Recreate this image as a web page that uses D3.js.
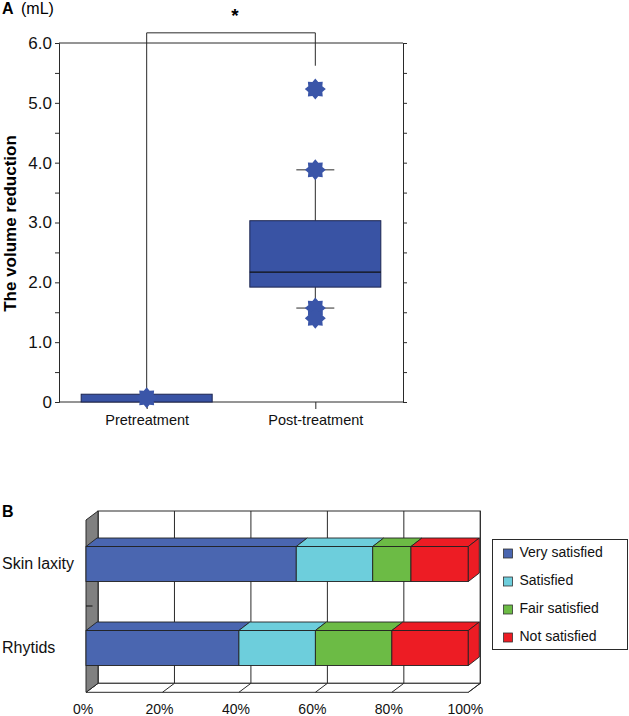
<!DOCTYPE html>
<html>
<head>
<meta charset="utf-8">
<script src="https://cdn.jsdelivr.net/npm/d3@7"></script>
<style>
  html, body { margin: 0; padding: 0; background: #fff; }
  svg { display: block; font-family: "Liberation Sans", Arial, Helvetica, sans-serif; }
</style>
</head>
<body>
<svg id="chart" width="629" height="716"></svg>
<script>
// ---------- Panel A data ----------
const groupsA = ["Pretreatment", "Post-treatment"];
const boxLow = [0, 1.92];
const boxHigh = [0.13, 3.03];
const boxMedian = [null, 2.17];
const whiskerLow = [null, 1.57];
const whiskerHigh = [null, 3.88];
const outlierGroup = ["Pretreatment", "Post-treatment", "Post-treatment", "Post-treatment", "Post-treatment"];
const outlierValue = [0.07, 5.23, 3.88, 1.57, 1.40];
const yTicksA = [0, 0.5, 1, 1.5, 2, 2.5, 3, 3.5, 4, 4.5, 5, 5.5, 6];
const bracketTop = 6.17;
const bracketRightEnd = 5.62;
const sigMark = "*";

// ---------- Panel B data ----------
const categoriesB = ["Skin laxity", "Rhytids"];
const seriesB = ["Very satisfied", "Satisfied", "Fair satisfied", "Not satisfied"];
const valuesSkin = [55, 20, 10, 15];
const valuesRhytids = [40, 20, 20, 20];
const colorsB = ["#4a66b0", "#6dcedc", "#6cbb45", "#ed1c24"];
const xTicksB = [0, 20, 40, 60, 80, 100];

const svg = d3.select("#chart");
const dark = "#2a2a2a";
const boxBlue = "#3953a4";

// ================= Panel A =================
const A = { left: 59, right: 403, top: 43, bottom: 402 };
const xA = d3.scalePoint().domain(groupsA).range([A.left, A.right]).padding(0.52);
const yA = d3.scaleLinear().domain([0, 6]).range([A.bottom, A.top]);
const boxHalf = 65.5;
const capHalf = 19;

const gA = svg.append("g");

// frame top
gA.append("line").attr("x1", A.left).attr("x2", A.right).attr("y1", A.top).attr("y2", A.top)
  .attr("stroke", dark).attr("stroke-width", 1);

// left axis
const axL = d3.axisLeft(yA).tickValues(yTicksA).tickSize(4).tickPadding(3)
  .tickFormat(v => v === 0 ? "0" : (v % 1 === 0 ? v.toFixed(1) : ""));
const gL = gA.append("g").attr("transform", `translate(${A.left},0)`).call(axL);
gL.select(".domain").attr("stroke", dark);
gL.selectAll(".tick line").attr("stroke", dark);
gL.selectAll(".tick text").attr("font-size", 17).attr("fill", "#111")
  .attr("font-family", "Liberation Sans, Arial, sans-serif");

// right axis
const axR = d3.axisRight(yA).tickValues(yTicksA).tickSize(4).tickFormat("");
const gR = gA.append("g").attr("transform", `translate(${A.right},0)`).call(axR);
gR.select(".domain").attr("stroke", dark);
gR.selectAll(".tick line").attr("stroke", dark);

// bottom axis
const axB = d3.axisBottom(xA).tickSize(7).tickPadding(6);
const gBx = gA.append("g").attr("transform", `translate(0,${A.bottom})`).call(axB);
gBx.select(".domain").attr("d", `M${A.left},0H${A.right}`).attr("stroke", dark);
gBx.selectAll(".tick line").attr("stroke", dark);
gBx.selectAll(".tick text").attr("font-size", 14.5).attr("fill", "#111")
  .attr("font-family", "Liberation Sans, Arial, sans-serif");

// significance bracket
const xPre = xA(groupsA[0]), xPost = xA(groupsA[1]);
gA.append("path")
  .attr("d", `M${xPre},${yA(boxHigh[0])}V${yA(bracketTop)}H${xPost}V${yA(bracketRightEnd)}`)
  .attr("fill", "none").attr("stroke", dark).attr("stroke-width", 1);
gA.append("text").attr("x", (xPre + xPost) / 2 + 4).attr("y", 22)
  .attr("text-anchor", "middle").attr("font-size", 19).attr("font-weight", "bold").text(sigMark);

// whiskers
groupsA.forEach((g, i) => {
  const cx = xA(g);
  if (whiskerHigh[i] != null) {
    gA.append("line").attr("x1", cx).attr("x2", cx).attr("y1", yA(boxHigh[i])).attr("y2", yA(whiskerHigh[i])).attr("stroke", dark);
    gA.append("line").attr("x1", cx - capHalf).attr("x2", cx + capHalf).attr("y1", yA(whiskerHigh[i])).attr("y2", yA(whiskerHigh[i])).attr("stroke", dark);
  }
  if (whiskerLow[i] != null) {
    gA.append("line").attr("x1", cx).attr("x2", cx).attr("y1", yA(boxLow[i])).attr("y2", yA(whiskerLow[i])).attr("stroke", dark);
    gA.append("line").attr("x1", cx - capHalf).attr("x2", cx + capHalf).attr("y1", yA(whiskerLow[i])).attr("y2", yA(whiskerLow[i])).attr("stroke", dark);
  }
});

// boxes
gA.selectAll("rect.box").data(groupsA).join("rect").attr("class", "box")
  .attr("x", d => xA(d) - boxHalf)
  .attr("width", boxHalf * 2)
  .attr("y", (d, i) => yA(boxHigh[i]))
  .attr("height", (d, i) => yA(boxLow[i]) - yA(boxHigh[i]))
  .attr("fill", boxBlue).attr("stroke", "#1c2550").attr("stroke-width", 1);

groupsA.forEach((g, i) => {
  if (boxMedian[i] != null) {
    gA.append("line").attr("x1", xA(g) - boxHalf).attr("x2", xA(g) + boxHalf)
      .attr("y1", yA(boxMedian[i])).attr("y2", yA(boxMedian[i])).attr("stroke", "#111").attr("stroke-width", 1.2);
  }
});

// star markers
function starPath(rOut, rIn, n) {
  const pts = [];
  for (let k = 0; k < n * 2; k++) {
    const r = k % 2 === 0 ? rOut : rIn;
    const a = Math.PI * k / n - Math.PI / 2;
    pts.push([r * Math.cos(a), r * Math.sin(a)]);
  }
  return "M" + pts.map(p => p.join(",")).join("L") + "Z";
}
const star = starPath(10.5, 7.6, 8);
gA.selectAll("path.star").data(outlierValue).join("path").attr("class", "star")
  .attr("d", star)
  .attr("transform", (d, i) => `translate(${xA(outlierGroup[i])},${yA(d)})`)
  .attr("fill", "#3a55a8");

// titles
gA.append("text").attr("x", 2).attr("y", 14).attr("font-size", 16).attr("font-weight", "bold").text("A");
gA.append("text").attr("x", 21).attr("y", 14).attr("font-size", 16).text("(mL)");
gA.append("text").attr("transform", `translate(16,${(A.top + A.bottom) / 2 + 1}) rotate(-90)`)
  .attr("text-anchor", "middle").attr("font-size", 17).attr("font-weight", "bold").text("The volume reduction");

// ================= Panel B =================
const B = { frontLeft: 86, frontRight: 468.3, top: 520, bottom: 692.3 };
const depth = { dx: 12, dy: -9 };
const barDepth = { dx: 11, dy: -8.5 };
const xB = d3.scaleLinear().domain([0, 100]).range([B.frontLeft, B.frontRight]);
const yB = d3.scaleBand().domain(categoriesB).range([522, 690]);
const barH = 35;
const gB = svg.append("g");

// back wall
const backTop = B.top + depth.dy, backBottom = B.bottom + depth.dy;
gB.append("rect").attr("x", xB(0) + depth.dx).attr("y", backTop)
  .attr("width", xB(100) - xB(0)).attr("height", backBottom - backTop)
  .attr("fill", "#fff").attr("stroke", dark).attr("stroke-width", 1);
gB.selectAll("line.grid").data(xTicksB).join("line").attr("class", "grid")
  .attr("x1", d => xB(d) + depth.dx).attr("x2", d => xB(d) + depth.dx)
  .attr("y1", backTop).attr("y2", backBottom).attr("stroke", dark).attr("stroke-width", 1);

// floor
gB.append("path")
  .attr("d", `M${xB(0)},${B.bottom}L${xB(0) + depth.dx},${backBottom}L${xB(100) + depth.dx},${backBottom}L${xB(100)},${B.bottom}Z`)
  .attr("fill", "#fff").attr("stroke", dark).attr("stroke-width", 1);
gB.selectAll("line.floortick").data(xTicksB).join("line").attr("class", "floortick")
  .attr("x1", d => xB(d)).attr("y1", B.bottom)
  .attr("x2", d => xB(d) + depth.dx).attr("y2", backBottom)
  .attr("stroke", dark).attr("stroke-width", 1);

// side wall
gB.append("path")
  .attr("d", `M${xB(0)},${B.top}L${xB(0) + depth.dx},${backTop}L${xB(0) + depth.dx},${backBottom}L${xB(0)},${B.bottom}Z`)
  .attr("fill", "#808080").attr("stroke", dark).attr("stroke-width", 1);

// category separator tick
gB.append("line").attr("x1", xB(0)).attr("x2", xB(0) + 6.5)
  .attr("y1", yB(categoriesB[1])).attr("y2", yB(categoriesB[1])).attr("stroke", "#111");

// bars
const valuesByCat = [valuesSkin, valuesRhytids];
categoriesB.forEach((cat, ci) => {
  const vals = valuesByCat[ci];
  const yc = yB(cat) + yB.bandwidth() / 2;
  const y0 = yc - barH / 2, y1 = yc + barH / 2;
  let cum = 0;
  vals.forEach((v, si) => {
    const a = xB(cum), b = xB(cum + v);
    cum += v;
    // top face
    gB.append("path")
      .attr("d", `M${a},${y0}L${a + barDepth.dx},${y0 + barDepth.dy}L${b + barDepth.dx},${y0 + barDepth.dy}L${b},${y0}Z`)
      .attr("fill", colorsB[si]).attr("stroke", "#222").attr("stroke-width", 0.9).attr("stroke-linejoin", "round");
    // front face
    gB.append("rect").attr("x", a).attr("y", y0).attr("width", b - a).attr("height", barH)
      .attr("fill", colorsB[si]).attr("stroke", "#222").attr("stroke-width", 0.9);
    if (si === vals.length - 1) {
      gB.append("path")
        .attr("d", `M${b},${y0}L${b + barDepth.dx},${y0 + barDepth.dy}L${b + barDepth.dx},${y1 + barDepth.dy}L${b},${y1}Z`)
        .attr("fill", colorsB[si]).attr("stroke", "#222").attr("stroke-width", 0.9).attr("stroke-linejoin", "round");
    }
  });
});

// category labels
gB.selectAll("text.cat").data(categoriesB).join("text").attr("class", "cat")
  .attr("x", 2).attr("y", d => yB(d) + yB.bandwidth() / 2 + 1)
  .attr("dominant-baseline", "middle").attr("font-size", 16).attr("fill", "#111").text(d => d);

// x labels
gB.selectAll("text.xt").data(xTicksB).join("text").attr("class", "xt")
  .attr("x", d => xB(d) - 3).attr("y", 714)
  .attr("text-anchor", "middle").attr("font-size", 14).attr("fill", "#111").text(d => d + "%");

gB.append("text").attr("x", 2).attr("y", 517).attr("font-size", 16).attr("font-weight", "bold").text("B");

// legend
const leg = gB.append("g").attr("transform", "translate(492.5,539.5)");
leg.append("rect").attr("width", 135).attr("height", 110).attr("fill", "#fff").attr("stroke", dark).attr("stroke-width", 1);
const legY = d3.scalePoint().domain(seriesB).range([14, 98]);
leg.selectAll("rect.sw").data(seriesB).join("rect").attr("class", "sw")
  .attr("x", 11).attr("y", d => legY(d) - 4.5).attr("width", 9).attr("height", 9)
  .attr("fill", (d, i) => colorsB[i]).attr("stroke", "#333").attr("stroke-width", 0.8);
leg.selectAll("text.lt").data(seriesB).join("text").attr("class", "lt")
  .attr("x", 27).attr("y", d => legY(d)).attr("dominant-baseline", "middle")
  .attr("font-size", 14).attr("fill", "#111").text(d => d);
</script>
</body>
</html>
